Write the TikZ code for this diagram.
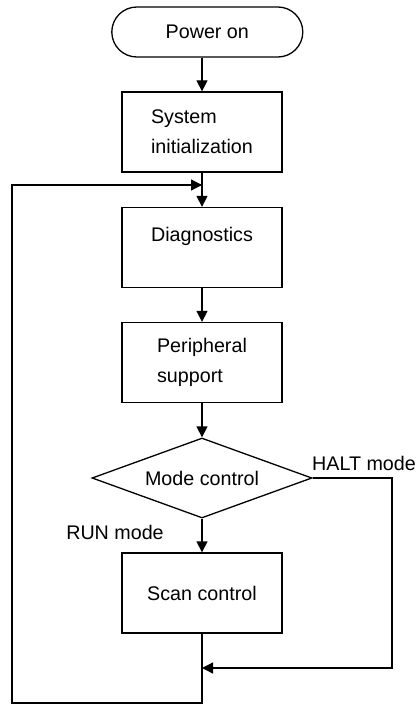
\documentclass[tikz,border=0pt]{standalone}
\usepackage{fontspec}
\setmainfont{Liberation Sans}
\usetikzlibrary{shapes.geometric,arrows.meta}
\begin{document}
\begin{tikzpicture}[x=1bp,y=-1bp,
  every node/.style={font=\fontsize{19.7bp}{30bp}\selectfont},
  box/.style={draw,line width=1.3bp,rectangle,minimum width=160bp,minimum height=80bp,align=left,inner sep=0pt},
  term/.style={draw,line width=1.3bp,rectangle,rounded corners=25bp,minimum width=191bp,minimum height=50bp,inner sep=0pt},
  decision/.style={draw,line width=1.3bp,diamond,aspect=2.75,minimum width=220bp,minimum height=80bp,inner sep=0pt},
  flow/.style={line width=1.3bp,-{Triangle[length=11bp,width=11bp]}},
  plain/.style={line width=1.3bp},
  lbl/.style={inner sep=0pt}]
\useasboundingbox (0,0) rectangle (418,704);
\node[term] (power) at (207.3,32) {Power on};
\node[box] (init) at (202,132) {System\\initialization};
\node[box] (diag) at (202,247.5) {Diagnostics\\[-4bp]\mbox{}};
\node[box] (periph) at (202,362.5) {Peripheral\\support};
\node[decision] (mode) at (202,478) {Mode control};
\node[box] (scan) at (202,593) {Scan control};
\node[lbl] (halt) at (364,463) {HALT mode};
\node[lbl] (run) at (115,532) {RUN mode};
\coordinate (j1) at (202,185);
\coordinate (j2) at (202,668);
\coordinate (r1) at (392,478);
\coordinate (r2) at (392,668);
\coordinate (b1) at (202,703);
\coordinate (b2) at (12,703);
\coordinate (b3) at (12,185);
\draw[flow] (init.north |- power.south) -- (init.north);
\draw[flow] (init.south) -- (diag.north);
\draw[flow] (diag.south) -- (periph.north);
\draw[flow] (periph.south) -- (mode.north);
\draw[flow] (mode.south) -- (scan.north);
\draw[flow] (mode.east) -- (r1) -- (r2) -- (j2);
\draw[plain] (scan.south) -- (b1) -- (b2) -- (b3) -- (j1);
\draw[flow] (b3) -- (j1);
\end{tikzpicture}
\end{document}
